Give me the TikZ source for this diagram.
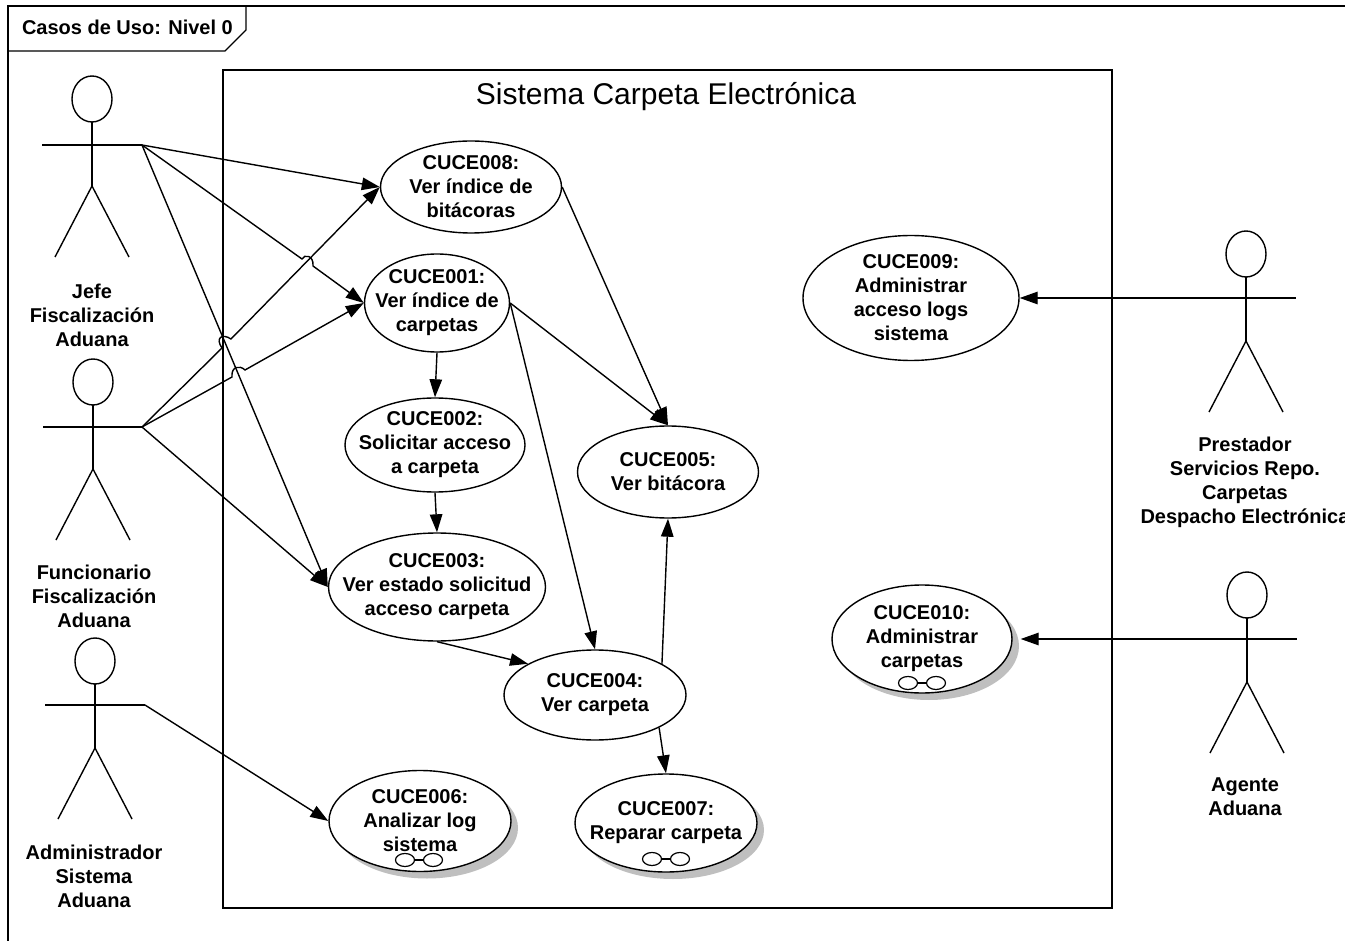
\documentclass[tikz,border=0pt]{standalone}
\usepackage{fontspec}
\setmainfont{Liberation Sans}
\usetikzlibrary{arrows.meta,shapes.geometric,shadows}

\tikzset{
  usecase/.style={draw, ellipse, fill=white, inner sep=-30pt, align=center, font=\fontsize{20}{24}\selectfont\bfseries},
  actorlabel/.style={align=center, font=\fontsize{20}{24}\selectfont\bfseries},
  flow/.style={-{Triangle[length=18pt,width=12.5pt]}},
  shaded/.style={drop shadow={shadow xshift=7pt, shadow yshift=-7pt, fill=black!25, opacity=1}}
}

\begin{document}
\begin{tikzpicture}[x=1pt, y=-1pt, line width=1.4pt]
\useasboundingbox (0,0) rectangle (1345,941);

% Frame and its tab
\draw (8,941) -- (8,6) -- (1345,6);
\draw (8,51) -- (225,51) -- (246,30) -- (246,6);
\node[anchor=west, font=\fontsize{20}{24}\selectfont\bfseries] (tabtitle) at (18,27) {Casos de Uso: Nivel 0};

% System boundary
\draw (223,70) rectangle (1112,908);
\node[font=\fontsize{30}{34}\selectfont] (systemtitle) at (666,97) {Sistema Carpeta Electrónica};

% Actors: head, body, arms, legs
\foreach \ax/\ay/\armdy/\hname/\lhand in {92/99/46/jefe/142, 93/382/45/func/142, 95/661/44/admin/145, 1246/254/44/prest/1196, 1247/595/44/agente/1197}{
  \draw (\ax,\ay) ellipse[x radius=20, y radius=23];
  \draw (\ax,\ay+23) -- (\ax,\ay+87);
  \draw (\ax,\ay+87) -- (\ax-37,\ay+158);
  \draw (\ax,\ay+87) -- (\ax+37,\ay+158);
  \draw (\ax-50,\ay+\armdy) -- (\ax+50,\ay+\armdy);
  \coordinate (\hname hand) at (\lhand,\ay+\armdy);
}

\node[actorlabel] (jefelabel) at (92,315) {Jefe\\Fiscalización\\Aduana};
\node[actorlabel] (funclabel) at (94,596) {Funcionario\\Fiscalización\\Aduana};
\node[actorlabel] (adminlabel) at (94,876) {Administrador\\Sistema\\Aduana};
\node[actorlabel] (prestlabel) at (1245,482) {Prestador\\Servicios Repo.\\Carpetas\\Despacho Electrónica};
\node[actorlabel] (agentelabel) at (1245,797) {Agente\\Aduana};

% Use cases
\node[usecase, minimum width=181pt, minimum height=92pt] (cuce008) at (471,187) {CUCE008:\\Ver índice de\\bitácoras};
\node[usecase, minimum width=145pt, minimum height=98pt] (cuce001) at (437,303) {CUCE001:\\Ver índice de\\carpetas};
\node[usecase, minimum width=180pt, minimum height=94pt] (cuce002) at (435,445) {CUCE002:\\Solicitar acceso\\a carpeta};
\node[usecase, minimum width=217pt, minimum height=108pt] (cuce003) at (437,587) {CUCE003:\\Ver estado solicitud\\acceso carpeta};
\node[usecase, minimum width=182pt, minimum height=90pt] (cuce004) at (595,695) {CUCE004:\\Ver carpeta};
\node[usecase, minimum width=181pt, minimum height=92pt] (cuce005) at (668,472) {CUCE005:\\Ver bitácora};
\node[usecase, shaded, minimum width=182pt, minimum height=101pt] (cuce006) at (420,821) {CUCE006:\\Analizar log\\sistema};
\node[usecase, shaded, minimum width=182pt, minimum height=98pt] (cuce007) at (666,823) {CUCE007:\\Reparar carpeta\\[-20pt]};
\node[usecase, minimum width=216pt, minimum height=125pt] (cuce009) at (911,298) {CUCE009:\\Administrar\\acceso logs\\sistema};
\node[usecase, shaded, minimum width=180pt, minimum height=108pt] (cuce010) at (922,639) {CUCE010:\\Administrar\\carpetas\\[-20pt]};

% Glasses marks
\foreach \gx/\gy in {419/860, 666/859, 922/683}{
  \draw[line width=1.2pt] (\gx-14,\gy) ellipse[x radius=9.5, y radius=6.5];
  \draw[line width=1.2pt] (\gx+14,\gy) ellipse[x radius=9.5, y radius=6.5];
  \draw[line width=1.2pt] (\gx-4.5,\gy) -- (\gx+4.5,\gy);
}

% Actors to use cases, some lines hop over a crossing
\draw[flow] (jefehand) -- (cuce008.west);
\draw[flow] (jefehand) -- (302,259) .. controls (304,254) and (314,255) .. (313,266) -- (cuce001.west);
\draw[flow] (jefehand) -- (cuce003.west);
\draw[flow] (funchand) -- (222,348) .. controls (215,338) and (222,333) .. (231,339) -- (cuce008.west);
\draw[flow] (funchand) -- (232,377) .. controls (231,366) and (240,365) .. (245,370) -- (cuce001.west);
\draw[flow] (funchand) -- (cuce003.west);
\draw[flow] (adminhand) -- (cuce006.west);
\draw[flow] (presthand) -- (cuce009.east);
\draw[flow, shorten >=8pt] (agentehand) -- (cuce010.east);

% Between use cases
\draw[flow] (cuce008.east) -- (cuce005.north);
\draw[flow] (cuce001.east) -- (cuce005.north);
\draw[flow] (cuce001.east) -- (cuce004.north);
\draw[flow] (cuce001.south) -- (cuce002.north);
\draw[flow] (cuce002.south) -- (cuce003.north);
\draw[flow] (cuce003.south) -- (cuce004.155);
\draw[flow] (cuce004.25) -- (cuce005.south);
\draw[flow] (cuce004.-27) -- (cuce007.north);

\end{tikzpicture}
\end{document}
